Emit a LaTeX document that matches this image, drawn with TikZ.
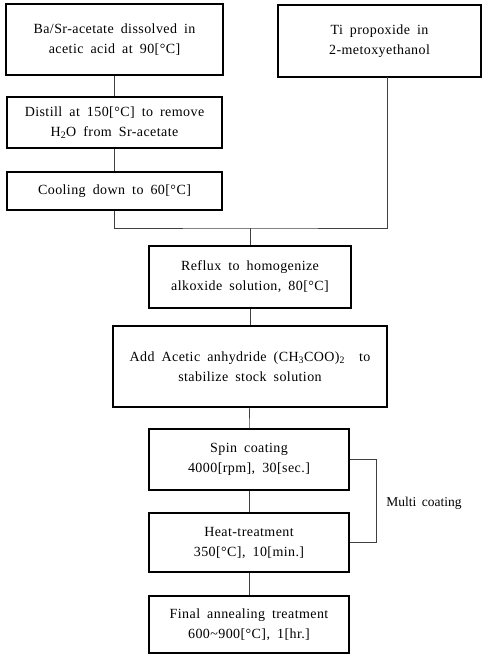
\documentclass[tikz,border=0pt]{standalone}
\usepackage{fontspec}
\setmainfont{Liberation Serif}[LetterSpace=3,WordSpace={1.8,1.2,1.2}]
\newfontfamily\lblfont{Liberation Serif}[WordSpace={1.6,1.2,1.2}]
\begin{document}
\begin{tikzpicture}[x=1pt,y=-1pt,
  box/.style={draw=black,line width=1.1pt,rectangle,inner sep=0pt,align=center,
    font=\fontsize{14}{20}\selectfont},
  conn/.style={draw=black!75,line width=0.6pt},
  lbl/.style={font=\lblfont\fontsize{13.5}{20}\selectfont,inner sep=0pt}]
\useasboundingbox (0,0) rectangle (482,655);
\node[box,minimum width=217pt,minimum height=71pt] (b1) at (114.5,39.5)
  {Ba/Sr-acetate dissolved in\\acetic acid at 90[°C]};
\node[box,minimum width=203pt,minimum height=72pt] (ti) at (379.5,41)
  {Ti propoxide in\\2-metoxyethanol};
\node[box,minimum width=215pt,minimum height=51pt] (dist) at (114.5,122.5)
  {Distill at 150[°C] to remove\\H\textsubscript{2}O from Sr-acetate};
\node[box,minimum width=215pt,minimum height=38pt] (cool) at (114.5,191)
  {Cooling down to 60[°C]};
\node[box,minimum width=202pt,minimum height=62pt] (reflux) at (250,277)
  {Reflux to homogenize\\alkoxide solution, 80[°C]};
\node[box,minimum width=274pt,minimum height=81pt] (add) at (250,366.5)
  {Add Acetic anhydride (CH\textsubscript{3}COO)\textsubscript{2}\ \ to\\stabilize stock solution};
\node[box,minimum width=200pt,minimum height=61pt] (spin) at (249,459.5)
  {Spin coating\\4000[rpm], 30[sec.]};
\node[box,minimum width=200pt,minimum height=59pt] (heat) at (249,542.5)
  {Heat-treatment\\350[°C], 10[min.]};
\node[box,minimum width=200pt,minimum height=57pt] (final) at (249,624.5)
  {Final annealing treatment\\600\textasciitilde 900[°C], 1[hr.]};
\node[lbl] (mc) at (424,503) {Multi coating};
\coordinate (j) at (250,228);
\coordinate (tiout) at (387,77);
\draw[conn] (b1) -- (dist);
\draw[conn] (dist) -- (cool);
\draw[conn] (cool.south) |- (j) -| (tiout);
\draw[conn] (j) -- (reflux.north);
\draw[conn] (reflux) -- (add);
\draw[conn] (add) -- (spin);
\draw[conn] (spin) -- (heat);
\draw[conn] (heat) -- (final);
\draw[conn] (spin.east) -- ++(27,0) |- (heat.east);
\end{tikzpicture}
\end{document}
